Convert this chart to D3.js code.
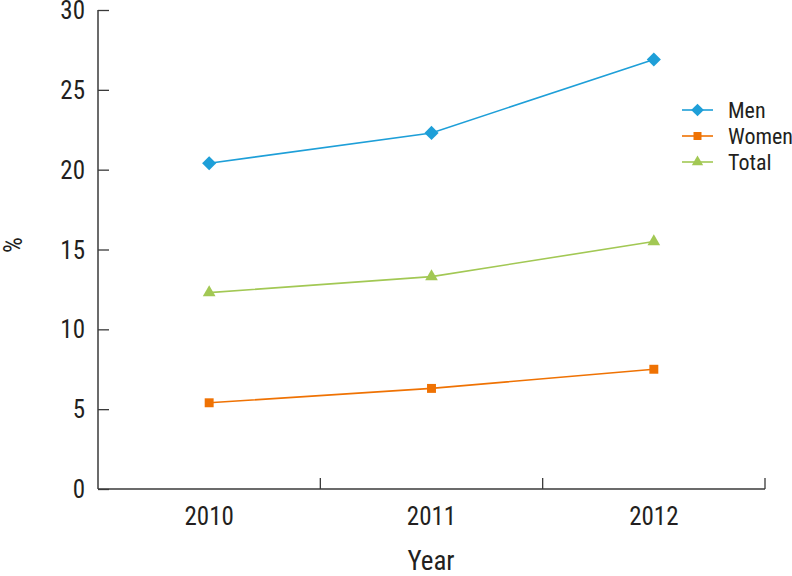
<!DOCTYPE html>
<html>
<head>
<meta charset="utf-8">
<script src="https://cdn.jsdelivr.net/npm/d3@7"></script>
<style>
	body{margin:0;background:#fff;}
	text{font-family:"Liberation Sans Narrow","Roboto Condensed","Liberation Sans",sans-serif;fill:#231f20;}
</style>
</head>
<body>
<div id="chart"></div>
<script>
var years=["2010","2011","2012"];
var men=[20.4,22.3,26.9];
var women=[5.4,6.3,7.5];
var total=[12.3,13.3,15.5];
var yTicks=[0,5,10,15,20,25,30];
var seriesNames=["Men","Women","Total"];

var width=792, height=576;
var padding={left:98,right:27,top:10,bottom:87};
var colorArr={"Men":"#1e9fd8","Women":"#ef7203","Total":"#a2c854"};
var symbolArr={"Men":d3.symbolSquare,"Women":d3.symbolSquare,"Total":d3.symbolTriangle};
var rotArr={"Men":45,"Women":0,"Total":0};
var sizeArr={"Men":100,"Women":80,"Total":70};
var series={"Men":men,"Women":women,"Total":total};

var svg=d3.select("#chart").append("svg")
	.attr("width",width).attr("height",height);

var x_scale=d3.scaleBand().domain(years)
	.range([padding.left,width-padding.right]);
var y_scale=d3.scaleLinear().domain([0,30])
	.range([height-padding.bottom,padding.top]);

// axes
var yAxis=svg.append("g")
	.attr("transform","translate("+padding.left+",0)")
	.call(d3.axisRight(y_scale).tickValues(yTicks).tickSize(11).tickSizeOuter(0));
yAxis.select(".domain").remove();
yAxis.selectAll("text").remove();
yAxis.selectAll("line").attr("stroke","#3a3a3a").attr("stroke-width",1.3);
svg.append("line")
	.attr("x1",padding.left).attr("x2",padding.left)
	.attr("y1",y_scale(30)).attr("y2",y_scale(0))
	.attr("stroke","#3a3a3a").attr("stroke-width",1.5);
svg.append("g").selectAll("text")
	.data(yTicks).enter().append("text")
	.attr("x",padding.left-13)
	.attr("y",function(d){return y_scale(d);})
	.attr("dy","0.36em")
	.attr("text-anchor","end")
	.style("font-size","25px")
	.text(function(d){return d;});

svg.append("line")
	.attr("x1",padding.left).attr("x2",width-padding.right)
	.attr("y1",y_scale(0)).attr("y2",y_scale(0))
	.attr("stroke","#3a3a3a").attr("stroke-width",1.5);
var xEdges=years.slice(1).map(function(d){return x_scale(d);}).concat([width-padding.right]);
svg.append("g").selectAll("line")
	.data(xEdges).enter().append("line")
	.attr("x1",function(d){return d;}).attr("x2",function(d){return d;})
	.attr("y1",y_scale(0)).attr("y2",y_scale(0)-11)
	.attr("stroke","#3a3a3a").attr("stroke-width",1.3);
svg.append("g").selectAll("text")
	.data(years).enter().append("text")
	.attr("x",function(d){return x_scale(d)+x_scale.bandwidth()/2;})
	.attr("y",y_scale(0)+36)
	.attr("text-anchor","middle")
	.style("font-size","25px")
	.text(function(d){return d;});

svg.append("text")
	.attr("x",431).attr("y",570)
	.attr("text-anchor","middle")
	.style("font-size","27px")
	.text("Year");
svg.append("text")
	.attr("transform","translate(22,245) rotate(-90)")
	.attr("text-anchor","middle")
	.style("font-size","25px")
	.text("%");

// lines + markers
var line=d3.line()
	.x(function(d,i){return x_scale(years[i])+x_scale.bandwidth()/2;})
	.y(function(d){return y_scale(d);});
seriesNames.forEach(function(k){
	var g=svg.append("g");
	g.append("path")
		.attr("d",line(series[k]))
		.attr("fill","none")
		.attr("stroke",colorArr[k])
		.attr("stroke-width",1.6);
	g.selectAll("path.pt")
		.data(series[k]).enter().append("path")
		.attr("class","pt")
		.attr("transform",function(d,i){return "translate("+(x_scale(years[i])+x_scale.bandwidth()/2)+","+y_scale(d)+") rotate("+rotArr[k]+")";})
		.attr("d",d3.symbol().type(symbolArr[k]).size(sizeArr[k]))
		.attr("fill",colorArr[k]);
});

// 图例
var legend=svg.append("g").selectAll("g")
	.data(seriesNames).enter().append("g")
	.attr("transform",function(d,i){return "translate(682,"+(110+26*i)+")";});
legend.append("line")
	.attr("x1",0).attr("x2",31)
	.attr("stroke",function(d){return colorArr[d];})
	.attr("stroke-width",1.6);
legend.append("path")
	.attr("transform",function(d){return "translate(15.5,0) rotate("+rotArr[d]+")";})
	.attr("d",function(d){return d3.symbol().type(symbolArr[d]).size(sizeArr[d]*0.8)();})
	.attr("fill",function(d){return colorArr[d];});
legend.append("text")
	.attr("x",46).attr("y",0).attr("dy","0.36em")
	.style("font-size","22px")
	.text(function(d){return d;});
</script>
</body>
</html>
